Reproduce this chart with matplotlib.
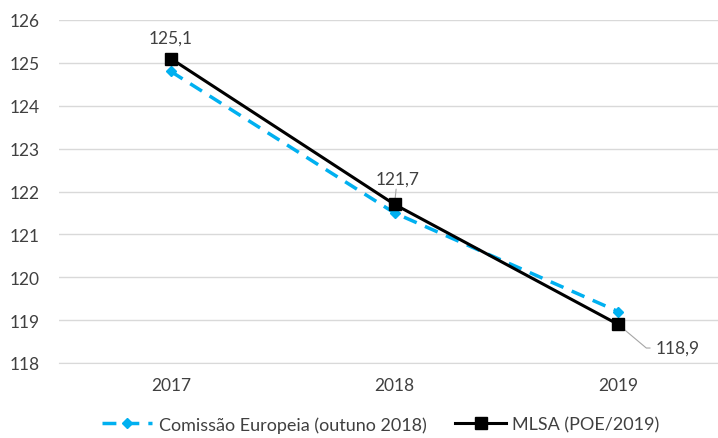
import numpy as np
import matplotlib.pyplot as plt

plt.rcParams['font.family'] = ['Lato', 'DejaVu Sans']

years = ['2017', '2018', '2019']
ce = [124.8, 121.5, 119.2]
mlsa = [125.1, 121.7, 118.9]
mlsa_labels = ['125,1', '121,7', '118,9']

txt = '#404040'
blue = '#00B0F0'

fig = plt.figure(figsize=(7.18, 4.39), dpi=100)
ax = fig.add_axes([59 / 718, 1 - 364 / 439, 671 / 718, 343 / 439])

x = np.arange(len(years))
ax.plot(x, ce, color=blue, lw=2.5, ls=(0, (4, 2.6)), marker='D', ms=5.5,
        label='Comissão Europeia (outuno 2018)', zorder=3)
ax.plot(x, mlsa, color='black', lw=2.2, marker='s', ms=9,
        label='MLSA (POE/2019)', zorder=4)

# data labels
ax.annotate(mlsa_labels[0], (x[0], mlsa[0]), xytext=(0, 9), textcoords='offset points',
            ha='center', va='bottom', fontsize=12.5, color=txt)
ax.annotate(mlsa_labels[1], (x[1], mlsa[1]), xytext=(2, 13), textcoords='offset points',
            ha='center', va='bottom', fontsize=12.5, color=txt,
            arrowprops=dict(arrowstyle='-', color='#A6A6A6', lw=0.8, shrinkA=0, shrinkB=3))
ax.annotate(mlsa_labels[2], (x[2], mlsa[2]), xytext=(27, -17), textcoords='offset points',
            ha='left', va='center', fontsize=12.5, color=txt,
            arrowprops=dict(arrowstyle='-', color='#A6A6A6', lw=0.8, shrinkA=2, shrinkB=2,
                            connectionstyle='angle,angleA=0,angleB=-40,rad=0'))

ax.set_xlim(-0.5, 2.5)
ax.set_ylim(118, 126)
ax.set_yticks(np.arange(118, 127, 1))
ax.set_xticks(x)
ax.set_xticklabels(years)
ax.grid(axis='y', color='#D9D9D9', lw=1)
ax.set_axisbelow(True)
for s in ['top', 'right', 'left']:
    ax.spines[s].set_visible(False)
ax.spines['bottom'].set_color('#D9D9D9')
ax.tick_params(length=0, labelsize=12.5, labelcolor=txt)
ax.tick_params(axis='y', pad=14)
ax.tick_params(axis='x', pad=10)

fig.legend(loc='lower center', bbox_to_anchor=(0.53, -0.025), ncol=2, frameon=False,
           fontsize=13, labelcolor=txt, handlelength=2.8, handletextpad=0.35,
           columnspacing=1.6)

fig.savefig('out.png', dpi=100)
